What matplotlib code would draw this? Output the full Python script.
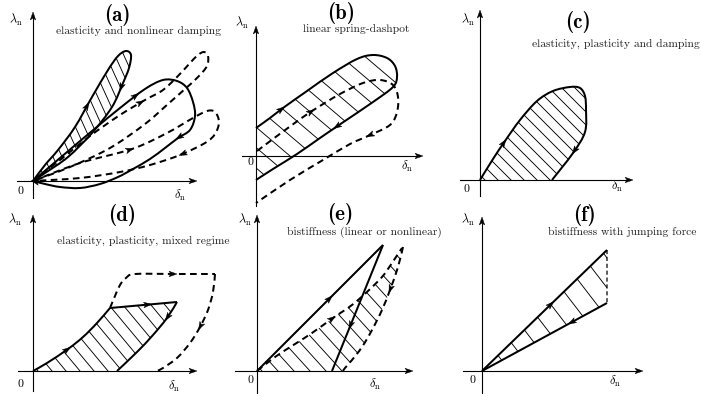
import numpy as np
import matplotlib
matplotlib.use("Agg")
import matplotlib.pyplot as plt
from matplotlib.path import Path
from matplotlib.patches import PathPatch, Polygon
from matplotlib.collections import LineCollection

plt.rcParams["mathtext.fontset"] = "cm"

W, H = 701, 397

# ---------------- data: local coords (delta_n to the right, lambda_n up) ----------------
# (a) elasticity and nonlinear damping
a_leaf = [(0, 0), (12, 16), (25, 31), (42, 54), (59, 84), (75, 111), (85, 125), (93, 130),
          (98, 126), (96, 113), (90, 98), (79, 74), (59, 48), (35, 24), (12, 8), (0, 0)]
a_loop = [(0, 0), (27, 23), (59, 50), (87, 73), (112, 92), (130, 101), (144, 100), (154, 93),
          (160, 79), (162, 65), (157, 51), (145, 43), (132, 33), (117, 22), (100, 12), (85, 4),
          (67, -3), (47, -7), (27, -6), (12, -3), (0, 0)]
a_dash1 = [(0, 0), (27, 21), (57, 45), (87, 66), (112, 81), (130, 91), (145, 105), (157, 118),
           (165, 126), (171, 129), (175, 125), (174, 115), (165, 104), (152, 92), (135, 77),
           (112, 57), (77, 33), (37, 14), (0, 0)]
a_dash2 = [(0, 0), (47, 18), (99, 32), (134, 48), (160, 63), (174, 70), (182, 69), (186, 59),
           (182, 47), (172, 38), (147, 26), (117, 16), (87, 9), (47, 3), (0, 0)]

# (b) linear spring-dashpot
b_loop = [(0, 28), (14, 38), (27, 48), (51, 65), (77, 83), (101, 97), (117, 101), (131, 98),
          (139, 90), (141, 79), (137, 69), (117, 54), (86, 33), (64, 18), (41, 2), (17, -13), (0, -24)]
b_dash = [(1, 5), (17, 17), (36, 31), (56, 45), (84, 62), (107, 73), (124, 76), (137, 71),
          (142, 59), (141, 44), (134, 31), (112, 20), (94, 12), (67, -4), (34, -24), (0, -47)]

# (c) elasticity, plasticity and damping
c_loop = [(0, 0), (13, 21), (25, 39), (40, 60), (57, 79), (73, 89), (90, 93), (100, 92),
          (105, 84), (106, 70), (105, 48), (93, 27), (72, 0)]

# (d) elasticity, plasticity, mixed regime
d_load = [(0, 0), (14, 8), (35, 22), (50, 34), (64, 48), (77, 63)]
d_top = [(77, 63), (144, 69)]
d_unload = [(144, 69), (134, 53), (120, 36), (104, 19), (84, 0)]
d_dash_up = [(77, 63), (82, 75), (87, 86), (93, 93), (102, 97), (142, 97), (182, 97)]
d_dash_down = [(182, 97), (180, 79), (175, 61), (167, 44), (157, 28), (144, 13), (130, 3), (124, 0)]

# (e) bistiffness (linear or nonlinear)
e_load = [(0, 0), (126, 126)]
e_unload = [(126, 126), (75, 0)]
e_dash_up = [(0, 0), (18, 14), (38, 27), (55, 38), (76, 53), (95, 66), (111, 80), (125, 94),
             (133, 105), (139, 114), (145, 123)]
e_dash_down = [(146, 124), (141, 104), (133, 81), (125, 61), (115, 41), (105, 24), (95, 11),
               (88, 3), (86, 0)]

# (f) bistiffness with jumping force
f_load = [(0, 0), (125, 121)]
f_unload = [(125, 68), (0, 0)]
f_jump = [(125, 121), (125, 68)]

titles = ["(a)", "(b)", "(c)", "(d)", "(e)", "(f)"]
subtitles = ["elasticity and nonlinear damping", "linear spring-dashpot",
             "elasticity, plasticity and damping", "elasticity, plasticity, mixed regime",
             "bistiffness (linear or nonlinear)", "bistiffness with jumping force"]

# ---------------- layout ----------------
origins = [(33, 181), (256, 156), (480, 180), (33, 371), (257, 371), (482, 371)]
xaxis_ext = [(-16, 164), (-14, 167), (-20, 153), (-15, 164), (-22, 156), (-19, 161)]
yaxis_ext = [(-17, 169), (-50, 130), (-16, 170), (-20, 156), (-22, 156), (-22, 154)]
title_pix = [(117, 15), (341, 13), (578, 22), (122, 215), (340, 214), (584, 215)]
sub_pix = [(139, 31), (356, 29), (532, 44), (143, 241), (364, 232), (622, 232)]
sub_ha = ["center", "center", "left", "center", "center", "center"]
lam_pix = [(16, 20), (242, 23), (468, 20), (15, 220), (245, 220), (468, 220)]
zero_pix = [(20, 191), (251, 162), (466, 189), (20, 384), (250, 380), (472, 380)]
del_pix = [(180, 195), (407, 166), (617, 186), (174, 386), (375, 384), (615, 381)]

LW = 1.45
HLW = 0.65
DASH = (0, (3.3, 2.2))

fig = plt.figure(figsize=(W / 100, H / 100), dpi=100)


def bez(pts):
    P = np.asarray(pts, float)
    n = len(P)
    verts = [P[0]]
    codes = [Path.MOVETO]
    for i in range(n - 1):
        p0 = P[max(i - 1, 0)]
        p1, p2 = P[i], P[i + 1]
        p3 = P[min(i + 2, n - 1)]
        verts += [p1 + (p2 - p0) / 6, p2 - (p3 - p1) / 6, p2]
        codes += [Path.CURVE4] * 3
    return np.array(verts), codes


def head(ax, p, u, L=8.0, Wd=5.6):
    u = np.asarray(u, float)
    u = u / np.hypot(*u)
    n = np.array([-u[1], u[0]])
    p = np.asarray(p, float)
    tip = p + u * L / 2
    base = p - u * L / 2
    poly = [tip, base + n * Wd / 2, p - u * L * 0.25, base - n * Wd / 2]
    ax.add_patch(Polygon(poly, closed=True, fc="black", ec="black", lw=0.3, zorder=6))


def curve(ax, pts, dashed=False, arrows=(), lw=LW):
    v, c = bez(pts)
    ax.add_patch(PathPatch(Path(v, c), fc="none", ec="black", lw=lw,
                           ls=DASH if dashed else "-", capstyle="butt", joinstyle="round", zorder=4))
    for seg, t in arrows:
        b = v[3 * seg:3 * seg + 4]
        pt = (1 - t) ** 3 * b[0] + 3 * (1 - t) ** 2 * t * b[1] + 3 * (1 - t) * t ** 2 * b[2] + t ** 3 * b[3]
        d = 3 * (1 - t) ** 2 * (b[1] - b[0]) + 6 * (1 - t) * t * (b[2] - b[1]) + 3 * t ** 2 * (b[3] - b[2])
        head(ax, pt, d)
    return v, c


def region(pieces):
    verts, codes = [], []
    for k, pts in enumerate(pieces):
        v, c = bez(pts)
        if k > 0:
            c = [Path.LINETO] + c[1:]
        verts += list(v)
        codes += c
    verts.append(verts[0])
    codes.append(Path.CLOSEPOLY)
    return Path(np.array(verts), codes)


def hatch(ax, path, s, dc, c0=0.0):
    patch = PathPatch(path, fc="none", ec="none")
    ax.add_patch(patch)
    v = path.vertices
    xmin, xmax = v[:, 0].min(), v[:, 0].max()
    ymin, ymax = v[:, 1].min(), v[:, 1].max()
    cmin, cmax = xmin + ymin / s, xmax + ymax / s
    k0 = np.floor((cmin - c0) / dc)
    cs = c0 + dc * np.arange(k0, (cmax - c0) / dc + 1)
    segs = [[(c - 300, 300 * s), (c + 300, -300 * s)] for c in cs]
    lc = LineCollection(segs, colors="black", linewidths=HLW, zorder=3)
    lc.set_clip_path(patch)
    ax.add_collection(lc)


def loc(i, p):
    ox, oy = origins[i]
    return (p[0] - ox, oy - p[1])


axes = []
for i, (ox, oy) in enumerate(origins):
    ax = fig.add_axes([0, 0, 1, 1])
    ax.set_xlim(-ox, W - ox)
    ax.set_ylim(-(H - oy), oy)
    ax.axis("off")
    ax.patch.set_alpha(0)
    axes.append(ax)
    # coordinate axes
    x0, x1 = xaxis_ext[i]
    y0, y1 = yaxis_ext[i]
    ax.plot([x0, x1 - 3], [0, 0], color="black", lw=0.8, zorder=2)
    ax.plot([0, 0], [y0, y1 - 3], color="black", lw=0.8, zorder=2)
    head(ax, (x1 - 4, 0), (1, 0), L=8, Wd=5.5)
    head(ax, (0, y1 - 4), (0, 1), L=8, Wd=5.5)
    # labels
    ax.text(*loc(i, title_pix[i]), titles[i], family="cmb10", fontsize=15, ha="center", va="center")
    ax.text(*loc(i, sub_pix[i]), subtitles[i], family="cmr10", fontsize=8.3, ha=sub_ha[i], va="center",
            color="#222222")
    ax.text(*loc(i, lam_pix[i]), r"$\lambda_{\mathrm{n}}$", fontsize=8.8, ha="center", va="center")
    ax.text(*loc(i, zero_pix[i]), "0", family="cmr10", fontsize=8.5, ha="center", va="center")
    ax.text(*loc(i, del_pix[i]), r"$\delta_{\mathrm{n}}$", fontsize=8.8, ha="center", va="center")

# (a)
ax = axes[0]
hatch(ax, region([a_leaf]), s=2.2, dc=9, c0=4)
curve(ax, a_leaf, arrows=[(3, 0.7), (10, 0.2)])
curve(ax, a_loop, arrows=[(3, 0.6), (10, 0.9), (19, 0.75)])
curve(ax, a_dash1, dashed=True, arrows=[(3, 0.8)])
curve(ax, a_dash2, dashed=True, arrows=[(1, 0.95), (9, 0.9)])

# (b)
ax = axes[1]
hatch(ax, region([b_loop]), s=0.85, dc=24, c0=10)
curve(ax, b_loop, arrows=[(1, 0.9), (12, 0.2)])
curve(ax, b_dash, dashed=True, arrows=[(2, 0.95), (10, 0.9)])

# (c)
ax = axes[2]
hatch(ax, region([c_loop]), s=1.0, dc=13, c0=5)
curve(ax, c_loop, arrows=[(1, 0.9), (10, 0.9)])

# (d)
ax = axes[3]
hatch(ax, region([d_load, d_top, d_unload]), s=1.2, dc=14, c0=5)
curve(ax, d_load, arrows=[(1, 0.95)])
curve(ax, d_top, arrows=[(0, 0.55)])
curve(ax, d_unload, arrows=[(0, 0.95)])
curve(ax, d_dash_up, dashed=True, arrows=[(4, 0.95)])
curve(ax, d_dash_down, dashed=True, arrows=[(2, 0.95)])

# (e)
ax = axes[4]
hatch(ax, region([e_dash_up, e_dash_down]), s=1.1, dc=16, c0=5)
curve(ax, e_load, arrows=[(0, 0.56)])
curve(ax, e_unload, arrows=[(0, 0.61)])
curve(ax, e_dash_up, dashed=True, arrows=[(3, 0.95)])
curve(ax, e_dash_down, dashed=True, arrows=[(1, 0.95)])

# (f)
ax = axes[5]
hatch(ax, region([f_load, f_jump, f_unload]), s=1.3, dc=23, c0=5)
curve(ax, f_load, arrows=[(0, 0.54)])
curve(ax, f_unload, arrows=[(0, 0.32)])
curve(ax, f_jump, dashed=True, lw=0.9)

fig.savefig("out.png", dpi=100)
